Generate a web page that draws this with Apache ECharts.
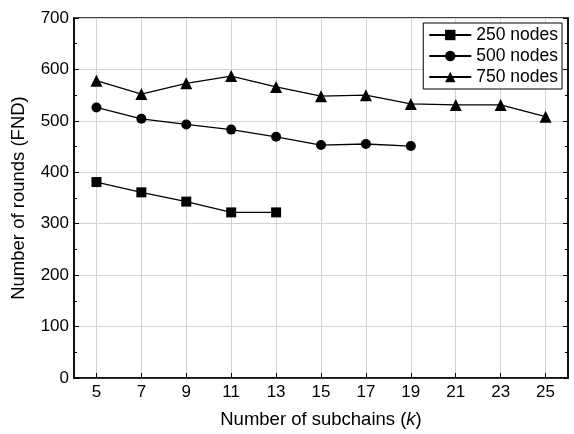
<!DOCTYPE html>
<html><head><meta charset="utf-8">
<script src="https://cdn.jsdelivr.net/npm/echarts@6/dist/echarts.min.js"></script>
<style>html,body{margin:0;padding:0;background:#fff}#c{width:574px;height:434px}</style>
</head><body><div id="c"></div>
<script>
var kValues = [5, 7, 9, 11, 13, 15, 17, 19, 21, 23, 25];
var nodes250 = [381, 361, 343, 322, 322];
var nodes500 = [526, 504, 493, 483, 469, 453, 455, 451];
var nodes750 = [578, 552, 573, 587, 566, 548, 550, 533, 531, 531, 508];
var seriesNames = ['250 nodes', '500 nodes', '750 nodes'];
var xRange = [4, 26];
var yTicks = [0, 700, 100];

var axisCats = [];
for (var k = xRange[0]; k <= xRange[1]; k++) axisCats.push(String(k));
function isOdd(idx, val) { return Number(val) % 2 === 1; }
function pairs(arr) { return arr.map(function (v, i) { return [String(kValues[i]), v]; }); }

var font = 'Liberation Sans, Arial, sans-serif';
var chart = echarts.init(document.getElementById('c'));
function mk(name, data, sym, size) {
  return {
    name: name, type: 'line', data: pairs(data), symbol: sym, symbolSize: size,
    lineStyle: {color: '#000', width: 1.3}, itemStyle: {color: '#000'},
    emphasis: {disabled: true}, animation: false
  };
}
chart.setOption({
  animation: false,
  grid: {left: 74, right: 6, top: 18, bottom: 54, show: true, borderColor: '#000', borderWidth: 1.5, backgroundColor: 'transparent'},
  legend: {
    show: true, right: 12, top: 23, orient: 'vertical', itemGap: 3,
    itemWidth: 42, itemHeight: 13, padding: [3, 4, 3, 5],
    borderColor: '#000', borderWidth: 1, backgroundColor: '#fff',
    textStyle: {fontFamily: font, fontSize: 17.5, color: '#000'},
    data: seriesNames
  },
  xAxis: {
    type: 'category', data: axisCats, boundaryGap: false,
    name: '{a|Number of subchains (}{b|k}{a|)}', nameLocation: 'middle', nameGap: 32,
    nameTextStyle: {rich: {a: {fontFamily: font, fontSize: 18.5, color: '#000'}, b: {fontFamily: font, fontSize: 18.5, color: '#000', fontStyle: 'italic'}}},
    axisLine: {lineStyle: {color: '#000', width: 1.5}},
    axisTick: {interval: isOdd, inside: true, length: 5, lineStyle: {color: '#000'}},
    axisLabel: {interval: isOdd, fontFamily: font, fontSize: 17, color: '#000', margin: 6},
    splitLine: {show: true, interval: isOdd, lineStyle: {color: '#d3d3d3', width: 1}}
  },
  yAxis: [{
    type: 'value', min: yTicks[0], max: yTicks[1], interval: yTicks[2],
    name: 'Number of rounds (FND)', nameLocation: 'middle', nameGap: 46,
    nameTextStyle: {fontFamily: font, fontSize: 18.5, color: '#000'},
    axisLine: {show: true, lineStyle: {color: '#000', width: 1.5}},
    axisTick: {show: true, inside: true, length: 5, lineStyle: {color: '#000'}},
    minorTick: {show: true, splitNumber: 2, length: 3, lineStyle: {color: '#000'}},
    axisLabel: {fontFamily: font, fontSize: 17, color: '#000', margin: 5},
    splitLine: {show: true, lineStyle: {color: '#d3d3d3', width: 1}}
  }, {
    type: 'value', min: yTicks[0], max: yTicks[1], interval: yTicks[2], position: 'right',
    axisLine: {show: true, lineStyle: {color: '#000', width: 1.5}},
    axisTick: {show: true, inside: true, length: 5, lineStyle: {color: '#000'}},
    minorTick: {show: true, splitNumber: 2, length: 3, lineStyle: {color: '#000'}},
    axisLabel: {show: false}, splitLine: {show: false}
  }],
  series: [
    mk(seriesNames[0], nodes250, 'rect', 10),
    mk(seriesNames[1], nodes500, 'circle', 10),
    mk(seriesNames[2], nodes750, 'triangle', 12)
  ]
});
</script></body></html>
